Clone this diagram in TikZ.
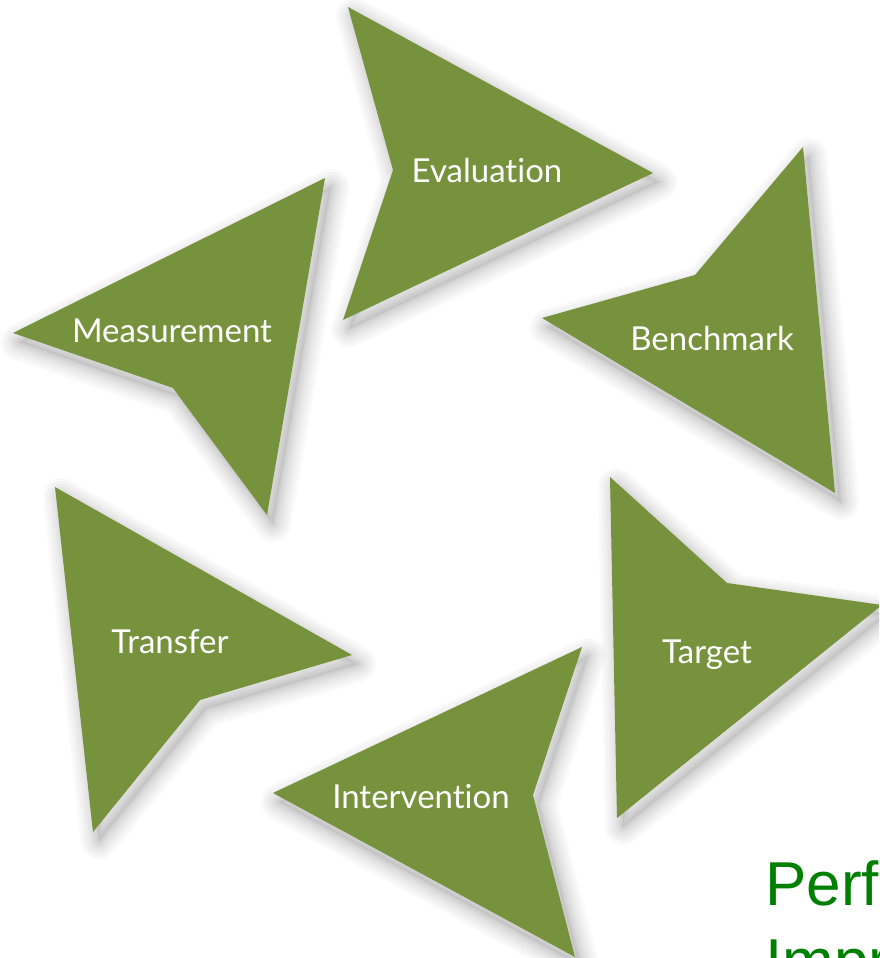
\documentclass[tikz,border=0pt]{standalone}
\usepackage{fontspec}
\setmainfont[Ligatures=NoCommon]{Lato}
\newfontfamily\arialf{Liberation Sans}
\definecolor{olivefill}{HTML}{76923C}
\definecolor{perfgreen}{HTML}{008000}
\def\evalpath{(348,7) -- (653,173) -- (343,320) -- (393,170) -- cycle}
\def\benchpath{(803,147) -- (835,493) -- (542,318) -- (695,275) -- cycle}
\def\measpath{(325,178) -- (267,515) -- (173,388) -- (13,333) -- cycle}
\def\transpath{(55,487) -- (352,655) -- (200,700) -- (93,832) -- cycle}
\def\intpath{(582,647) -- (533,795) -- (575,957) -- (273,793) -- cycle}
\def\targpath{(610,477) -- (727,583) -- (882,605) -- (617,818) -- cycle}
\newcommand\softshadow[1]{%
  \foreach \w in {36,30,24,19,14,10,6,3}{%
    \draw[line width=\w pt, black, opacity=0.022, line join=round, shift={(6,9)}] #1;}
  \fill[black, opacity=0.05, shift={(6,9)}] #1;}
\begin{document}
\begin{tikzpicture}[x=1pt,y=-1pt,
  lbl/.style={text=white, inner sep=0pt, anchor=base, font=\fontsize{33}{35}\selectfont},
  arrowshape/.style={fill=olivefill}]
\useasboundingbox (0,0) rectangle (879,958);
\clip (0,0) rectangle (879,958);
\fill[white] (0,0) rectangle (879,958);
\softshadow{\evalpath}
\softshadow{\benchpath}
\softshadow{\measpath}
\softshadow{\transpath}
\softshadow{\intpath}
\softshadow{\targpath}
\fill[arrowshape] \evalpath;
\fill[arrowshape] \benchpath;
\fill[arrowshape] \measpath;
\fill[arrowshape] \transpath;
\fill[arrowshape] \intpath;
\fill[arrowshape] \targpath;
\node[lbl] (eval) at (487,182) {Evaluation};
\node[lbl] (bench) at (712,350) {Benchmark};
\node[lbl] (meas) at (172,342) {Measurement};
\node[lbl] (trans) at (170,653) {Transfer};
\node[lbl] (targ) at (707,663) {Target};
\node[lbl] (interv) at (421,808) {Intervention};
\node[anchor=base west, inner sep=0pt, text=perfgreen, font=\arialf\fontsize{62}{62}\selectfont] (perf) at (765,905) {Perf};
\node[anchor=base west, inner sep=0pt, text=perfgreen, font=\arialf\fontsize{62}{62}\selectfont] (impr) at (765,982) {Impr};
\end{tikzpicture}
\end{document}
